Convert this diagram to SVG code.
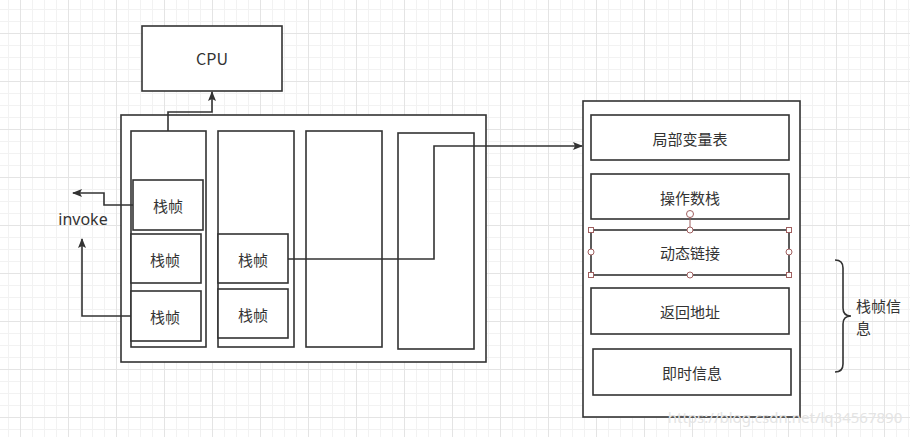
<svg xmlns="http://www.w3.org/2000/svg" width="910" height="437" viewBox="0 0 910 437">
<defs>
<pattern id="minor" x="8" y="9" width="12" height="12" patternUnits="userSpaceOnUse">
<path d="M0 0.5H12M0.5 0V12" fill="none" stroke="#f2f2f2" stroke-width="1"/>
</pattern>
<pattern id="major" x="20" y="33" width="48" height="48" patternUnits="userSpaceOnUse">
<path d="M0 0.5H48M0.5 0V48" fill="none" stroke="#e4e4e4" stroke-width="1"/>
</pattern>
<marker id="arr" viewBox="0 0 10 10" refX="9" refY="5" markerWidth="10" markerHeight="10" markerUnits="userSpaceOnUse" orient="auto">
<path d="M0 1L10 5L0 9L2 5Z" fill="#333"/>
</marker>
<style>
.box{fill:#fff;stroke:#333;stroke-width:1.6}
.t{font-family:"Noto Sans CJK SC","Noto Sans",sans-serif;font-size:15px;fill:#333;text-anchor:middle;dominant-baseline:central}
.c{fill:none;stroke:#333;stroke-width:1.6}
.h{fill:#fff;stroke:#a06060;stroke-width:1}
</style>
</defs>
<rect width="910" height="437" fill="#fff"/>
<rect width="910" height="437" fill="url(#minor)"/>
<rect width="910" height="437" fill="url(#major)"/>

<g id="cpu"><rect class="box" x="142" y="26" width="140" height="65"/><text class="t" x="212" y="58" style="font-size:16px">CPU</text></g>

<g id="thread-area">
<rect class="box" x="121" y="115" width="365" height="247"/>
</g>
<g id="stack1"><rect class="box" x="131" y="131" width="75" height="216"/></g>
<g id="stack2"><rect class="box" x="218" y="131" width="76" height="216"/></g>
<g id="stack3"><rect class="box" x="306" y="131" width="76" height="216"/></g>
<g id="stack4"><rect class="box" x="398" y="133" width="76" height="216"/></g>

<g id="frame1-1"><rect class="box" x="133" y="180" width="70" height="50"/><text class="t" x="168" y="205">栈帧</text></g>
<g id="frame1-2"><rect class="box" x="131" y="234" width="70" height="49"/><text class="t" x="165" y="259">栈帧</text></g>
<g id="frame1-3"><rect class="box" x="131" y="291" width="70" height="50"/><text class="t" x="165" y="316">栈帧</text></g>
<g id="frame2-1"><rect class="box" x="218" y="234" width="70" height="49"/><text class="t" x="253" y="259">栈帧</text></g>
<g id="frame2-2"><rect class="box" x="218" y="289" width="70" height="49"/><text class="t" x="253" y="314">栈帧</text></g>

<g id="invoke"><text class="t" x="83" y="219" style="font-family:'Noto Sans',sans-serif;font-size:16px">invoke</text></g>

<g id="frame-detail">
<rect class="box" x="583" y="101" width="217" height="316"/>
</g>
<g id="local-vars"><rect class="box" x="591" y="115" width="198" height="45"/><text class="t" x="690" y="138">局部变量表</text></g>
<g id="operand-stack"><rect class="box" x="591" y="174" width="198" height="45"/><text class="t" x="690" y="197">操作数栈</text></g>
<g id="dynamic-link"><rect class="box" x="591" y="230" width="198" height="45"/><text class="t" x="690" y="252">动态链接</text>
<line x1="690" y1="214" x2="690" y2="230" stroke="#a06060" stroke-width="1"/>
<circle class="h" cx="690" cy="214" r="3.5"/>
<rect class="h" x="588.5" y="227.5" width="5" height="5"/><rect class="h" x="786.5" y="227.5" width="5" height="5"/>
<rect class="h" x="588.5" y="272.5" width="5" height="5"/><rect class="h" x="786.5" y="272.5" width="5" height="5"/>
<circle class="h" cx="690" cy="230" r="3"/><circle class="h" cx="690" cy="275" r="3"/>
<circle class="h" cx="591" cy="252" r="3"/><circle class="h" cx="789" cy="252" r="3"/>
</g>
<g id="return-addr"><rect class="box" x="591" y="288" width="198" height="46"/><text class="t" x="690" y="311">返回地址</text></g>
<g id="extra-info"><rect class="box" x="593" y="349" width="198" height="46"/><text class="t" x="692" y="372">即时信息</text></g>

<g id="brace-label">
<path d="M835 260Q843 260 843 268V308Q843 316 851 316Q843 316 843 324V364Q843 372 835 372" fill="none" stroke="#333" stroke-width="1.6"/>
<text class="t" x="856" y="305" style="text-anchor:start">栈帧信</text>
<text class="t" x="856" y="327" style="text-anchor:start">息</text>
</g>

<g id="connectors">
<path class="c" d="M168 131V112H212V92" marker-end="url(#arr)"/>
<path class="c" d="M133 205H104V193H73" marker-end="url(#arr)"/>
<path class="c" d="M131 316H82V239" marker-end="url(#arr)"/>
<path class="c" d="M288 259H434V146H582" marker-end="url(#arr)"/>
</g>

<text x="785" y="423" style="font-family:'Noto Sans',sans-serif;font-size:15px;fill:#e4e4e4;text-anchor:middle">https://blog.csdn.net/lq34567890</text>
</svg>
